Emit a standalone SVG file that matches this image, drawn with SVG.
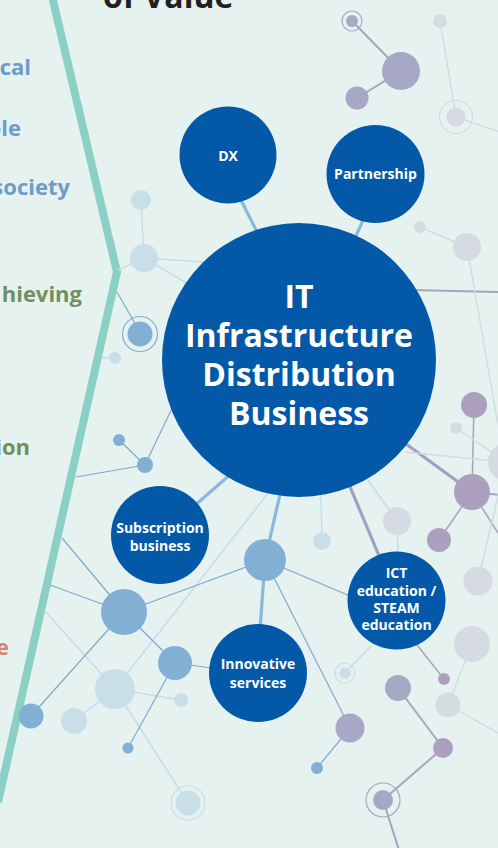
<svg xmlns="http://www.w3.org/2000/svg" width="498" height="848" viewBox="0 0 498 848">
<style>
.bg{fill:#e5f2ef}
.teal{fill:none;stroke:#8bd0c5;stroke-width:8;stroke-linejoin:miter}
.side{font-family:"Open Sans","Liberation Sans",sans-serif;font-weight:700;font-size:22px;text-anchor:end}
.ttl{font-family:"Open Sans","Liberation Sans",sans-serif;font-weight:700;font-size:32px;fill:#231f20}
.big{fill:#0359a7}
.lbl{font-family:"Open Sans","Liberation Sans",sans-serif;font-weight:700;fill:#fff;text-anchor:middle}
.lt{stroke:#c6dce7;stroke-width:1.5;fill:none}
.bl{stroke:#7fa9d0;stroke-width:1.2;fill:none}
.tb{stroke:#89b8dc;stroke-width:3.2;fill:none}
.tp{stroke:#a39fc0;stroke-width:3.2;fill:none}
.pu{stroke:#aaa1c1;stroke-width:2;fill:none}
.pt{stroke:#ae9fbe;stroke-width:1.5;fill:none}
.gr{stroke:#d5d9e2;stroke-width:1.4;fill:none}
.nLt{fill:#c8dfe8}
.nBl{fill:#82afd4}
.nPu{fill:#ad9fbe}
.nPb{fill:#a6a8c6}
.nGr{fill:#d5dae3}
.ringLt{fill:none;stroke:#c8dfe8;stroke-width:1.2}
.ringBl{fill:none;stroke:#82afd4;stroke-width:1.2}
.ringPb{fill:none;stroke:#a6a8c6;stroke-width:1.2}
.ringGr{fill:none;stroke:#d5dae3;stroke-width:1.2}
</style>
<rect class="bg" x="0" y="0" width="498" height="848"/>
<g id="title"><text class="ttl" x="103" y="8">of Value</text></g>
<g id="side-texts">
<text class="side" x="31" y="75" fill="#6f9cc6">cal</text>
<text class="side" x="21" y="136" fill="#6f9cc6">ole</text>
<text class="side" x="70" y="195" fill="#6f9cc6">society</text>
<text class="side" x="82" y="302" fill="#72905f">hieving</text>
<text class="side" x="30" y="455" fill="#72905f">ion</text>
<text class="side" x="9" y="655" fill="#d9816e">e</text>
</g>
<g id="divider"><polyline class="teal" points="52,-4 117,272 -2,802"/></g>
<g id="connectors">
<line class="lt" x1="141" y1="200" x2="144" y2="258"/>
<line class="lt" x1="144" y1="258" x2="205" y2="262"/>
<line class="lt" x1="144" y1="258" x2="190" y2="285"/>
<line class="lt" x1="144" y1="258" x2="118" y2="270"/>
<line class="lt" x1="115" y1="358" x2="102" y2="358"/>
<line class="lt" x1="115" y1="689" x2="74" y2="721"/>
<line class="lt" x1="115" y1="689" x2="181" y2="700"/>
<line class="lt" x1="115" y1="689" x2="188" y2="803"/>
<line class="lt" x1="115" y1="689" x2="272" y2="488"/>
<line class="lt" x1="45" y1="611" x2="115" y2="689"/>
<line class="lt" x1="321" y1="495" x2="322" y2="541"/>
<line class="lt" x1="368" y1="480" x2="397" y2="521"/>
<line class="lt" x1="397" y1="521" x2="398" y2="554"/>
<line class="lt" x1="372" y1="645" x2="345" y2="673"/>
<line class="bl" x1="141" y1="334" x2="117" y2="292"/>
<line class="bl" x1="119" y1="440" x2="145" y2="465"/>
<line class="bl" x1="145" y1="465" x2="76" y2="477"/>
<line class="bl" x1="145" y1="465" x2="174" y2="404"/>
<line class="bl" x1="124" y1="612" x2="62" y2="538"/>
<line class="bl" x1="124" y1="612" x2="50" y2="585"/>
<line class="bl" x1="124" y1="612" x2="31" y2="716"/>
<line class="bl" x1="124" y1="612" x2="265" y2="560"/>
<line class="bl" x1="124" y1="612" x2="175" y2="663"/>
<line class="bl" x1="175" y1="663" x2="128" y2="748"/>
<line class="bl" x1="175" y1="663" x2="212" y2="668"/>
<line class="bl" x1="265" y1="560" x2="350" y2="596"/>
<line class="bl" x1="265" y1="560" x2="350" y2="728"/>
<line class="bl" x1="350" y1="728" x2="317" y2="768"/>
<line class="tb" x1="240" y1="198" x2="258" y2="234"/>
<line class="tb" x1="364" y1="218" x2="355" y2="238"/>
<line class="tb" x1="193" y1="507" x2="232" y2="473"/>
<line class="tb" x1="265" y1="560" x2="281" y2="490"/>
<line class="tb" x1="265" y1="560" x2="260" y2="630"/>
<line class="tp" x1="348" y1="482" x2="380" y2="558"/>
<line class="tp" x1="402" y1="441" x2="472" y2="492" stroke="#a99cbc"/>
<line class="pu" x1="472" y1="492" x2="500" y2="495"/>
<line class="pu" x1="352" y1="21" x2="401" y2="71"/>
<line class="pu" x1="401" y1="71" x2="357" y2="98"/>
<line class="pu" x1="398" y1="688" x2="443" y2="748"/>
<line class="pu" x1="443" y1="748" x2="383" y2="800"/>
<line class="pu" x1="383" y1="800" x2="399" y2="850"/>
<line class="pu" x1="412" y1="290" x2="500" y2="292" stroke="#b6a2bf"/>
<line class="pt" x1="474" y1="405" x2="472" y2="492"/>
<line class="pt" x1="472" y1="492" x2="439" y2="540"/>
<line class="pt" x1="472" y1="492" x2="500" y2="536"/>
<line class="pt" x1="417" y1="645" x2="444" y2="679"/>
<line class="gr" x1="440" y1="20" x2="456" y2="117"/>
<line class="gr" x1="456" y1="117" x2="500" y2="132"/>
<line class="gr" x1="420" y1="227" x2="467" y2="247"/>
<line class="gr" x1="467" y1="247" x2="501" y2="442"/>
<line class="gr" x1="456" y1="428" x2="506" y2="462"/>
<line class="gr" x1="405" y1="452" x2="506" y2="462"/>
<line class="gr" x1="506" y1="462" x2="478" y2="581"/>
<line class="gr" x1="472" y1="644" x2="448" y2="705"/>
<line class="gr" x1="448" y1="705" x2="500" y2="734"/>
</g>
<g id="dots">
<circle class="nLt" cx="141" cy="200" r="10"/>
<circle class="nLt" cx="144" cy="258" r="14"/>
<g id="ring-dot-1"><circle class="nBl" cx="140" cy="334" r="12.5"/><circle class="ringBl" cx="140" cy="334" r="17.5"/></g>
<circle class="nLt" cx="115" cy="358" r="6"/>
<circle class="nBl" cx="119" cy="440" r="6" fill="#84acd0"/>
<circle class="nBl" cx="145" cy="465" r="8"/>
<circle class="nBl" cx="124" cy="612" r="23" fill="#7eaace"/>
<circle class="nBl" cx="31" cy="716" r="12.5" fill="#7c9bc2"/>
<circle class="nBl" cx="265" cy="560" r="21" fill="#88b4d8"/>
<circle class="nBl" cx="175" cy="663" r="17" fill="#80b3da"/>
<circle class="nLt" cx="115" cy="689" r="20"/>
<circle class="nLt" cx="74" cy="721" r="13"/>
<circle class="nLt" cx="181" cy="700" r="7"/>
<circle class="nBl" cx="128" cy="748" r="5.5"/>
<g id="ring-dot-2"><circle class="nLt" cx="188" cy="803" r="12.5"/><circle class="ringLt" cx="188" cy="803" r="17"/></g>
<circle class="nLt" cx="322" cy="541" r="9" fill="#cfdee6"/>
<circle class="nGr" cx="397" cy="521" r="14" fill="#d0dde4"/>
<circle class="nPb" cx="350" cy="728" r="14.5" fill="#9aaccb"/>
<circle class="nBl" cx="317" cy="768" r="6" fill="#93afd0"/>
<g id="ring-dot-3"><circle class="nLt" cx="345" cy="673" r="5.7" fill="#d0dfe6"/><circle class="ringLt" cx="345" cy="673" r="10" stroke="#d0dfe6"/></g>
<circle class="nPu" cx="444" cy="679" r="6"/>
<circle class="nPb" cx="398" cy="688" r="13" fill="#a9a3c3"/>
<circle class="nPu" cx="443" cy="748" r="10"/>
<g id="ring-dot-4"><circle class="nPb" cx="383" cy="800" r="10"/><circle class="ringPb" cx="383" cy="800" r="17"/></g>
<circle class="nGr" cx="478" cy="581" r="14.5"/>
<circle class="nGr" cx="472" cy="644" r="18"/>
<circle class="nGr" cx="448" cy="705" r="12.5"/>
<circle class="nPu" cx="474" cy="405" r="13"/>
<circle class="nGr" cx="456" cy="428" r="6"/>
<circle class="nGr" cx="507" cy="462" r="19"/>
<circle class="nPu" cx="472" cy="492" r="18"/>
<circle class="nPu" cx="439" cy="540" r="12" fill="#a99fc0"/>
<g id="ring-dot-5"><circle class="nPb" cx="352" cy="21" r="6" fill="#a0a9c8"/><circle class="ringPb" cx="352" cy="21" r="10" stroke="#a0a9c8"/></g>
<circle class="nPb" cx="401" cy="71" r="19" fill="#aaa6c2"/>
<circle class="nPb" cx="357" cy="98" r="11.5" fill="#a1aecc"/>
<circle class="nGr" cx="440" cy="21" r="7"/>
<g id="ring-dot-6"><circle class="nGr" cx="456" cy="117" r="9.5"/><circle class="ringGr" cx="456" cy="117" r="16.5"/></g>
<circle class="nGr" cx="420" cy="227" r="6"/>
<circle class="nGr" cx="467" cy="247" r="14"/>
</g>
<g id="node-main">
<circle class="big" cx="299" cy="360" r="137"/>
<text class="lbl" font-size="32" x="299"><tspan x="299" y="308">IT</tspan><tspan x="299" y="347">Infrastructure</tspan><tspan x="299" y="386">Distribution</tspan><tspan x="299" y="425">Business</tspan></text>
</g>
<g id="node-dx">
<circle class="big" cx="228" cy="155" r="48.5"/>
<text class="lbl" font-size="14" x="228" y="161">DX</text>
</g>
<g id="node-partnership">
<circle class="big" cx="375.5" cy="174" r="49"/>
<text class="lbl" font-size="14" x="375.5" y="179">Partnership</text>
</g>
<g id="node-subscription">
<circle class="big" cx="160" cy="535" r="49"/>
<text class="lbl" font-size="14"><tspan x="160" y="533">Subscription</tspan><tspan x="160" y="551">business</tspan></text>
</g>
<g id="node-innovative">
<circle class="big" cx="258" cy="673" r="49"/>
<text class="lbl" font-size="14"><tspan x="258" y="669">Innovative</tspan><tspan x="258" y="688">services</tspan></text>
</g>
<g id="node-ict">
<circle class="big" cx="396.5" cy="600.5" r="49"/>
<text class="lbl" font-size="14"><tspan x="396.5" y="578">ICT</tspan><tspan x="396.5" y="596">education /</tspan><tspan x="396.5" y="613">STEAM</tspan><tspan x="396.5" y="630">education</tspan></text>
</g>
</svg>
